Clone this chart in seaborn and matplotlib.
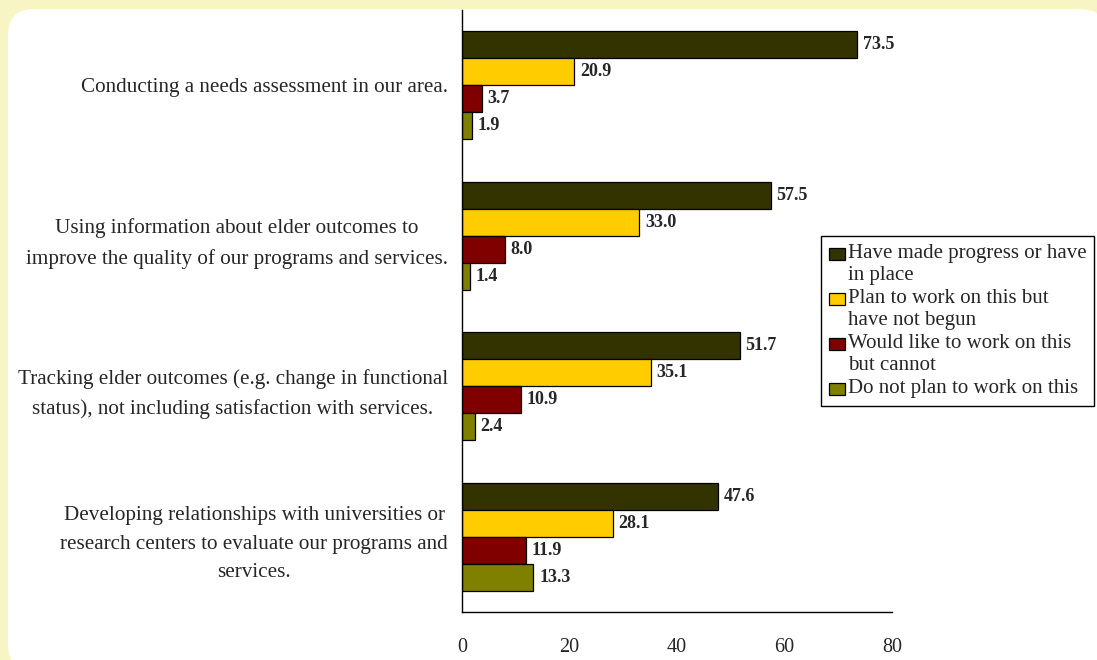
import matplotlib
matplotlib.use("Agg")
import matplotlib.pyplot as plt
from matplotlib.patches import FancyBboxPatch, Rectangle
from matplotlib.legend_handler import HandlerPatch
from matplotlib.ticker import FixedLocator
import pandas as pd
import seaborn as sns

# Survey items (y categories)
activities = [
    "Conducting a needs assessment in our area.",
    "Using information about elder outcomes to\nimprove the quality of our programs and services.",
    "Tracking elder outcomes (e.g. change in functional\nstatus), not including satisfaction with services.",
    "Developing relationships with universities or\nresearch centers to evaluate our programs and\nservices.",
]

# Response groups
statuses = [
    "Have made progress or have\nin place",
    "Plan to work on this but\nhave not begun",
    "Would like to work on this\nbut cannot",
    "Do not plan to work on this",
]

# Percent of respondents, one list per response group
made_progress = [73.5, 57.5, 51.7, 47.6]
plan_to_work = [20.9, 33.0, 35.1, 28.1]
would_like = [3.7, 8.0, 10.9, 11.9]
not_plan = [1.9, 1.4, 2.4, 13.3]

x_ticks = [0, 20, 40, 60, 80]

colors = ["#333300", "#FFCC00", "#800000", "#808000"]

rows = []
for status, values in zip(statuses, [made_progress, plan_to_work, would_like, not_plan]):
    for act, v in zip(activities, values):
        rows.append({"activity": act, "status": status, "percent": v})
df = pd.DataFrame(rows)

sns.set_style("white")
plt.rcParams["font.family"] = ["Liberation Serif", "DejaVu Serif"]

fig = plt.figure(figsize=(10.97, 6.6), dpi=100)
fig.patch.set_facecolor("#F7F5C4")

# white rounded panel behind the chart
panel = FancyBboxPatch(
    (8 / 1097, -11 / 660), 1098 / 1097, 662 / 660,
    boxstyle="round,pad=0,rounding_size=0.024",
    mutation_aspect=1097 / 660,
    transform=fig.transFigure, facecolor="white", edgecolor="none", zorder=-5,
)
fig.patches.append(panel)

ax = fig.add_axes([462 / 1097, 1 - 612 / 660, 430 / 1097, 602 / 660])
ax.set_facecolor("none")

sns.barplot(
    data=df, y="activity", x="percent", hue="status",
    order=activities, hue_order=statuses, palette=colors,
    orient="h", width=0.72, gap=0, edgecolor="black", linewidth=0.9,
    saturation=1, errorbar=None, ax=ax,
)

for cont in ax.containers:
    ax.bar_label(cont, fmt="%.1f", padding=4, fontsize=13, fontweight="bold")

ax.set_xlim(0, 80)
ax.set_ylim(3.5, -0.5)
ax.set_xticks(x_ticks)
ax.set_xticklabels([str(t) for t in x_ticks])
ax.set_xlabel("")
ax.set_ylabel("")

for side in ["top", "right"]:
    ax.spines[side].set_visible(False)
for side in ["left", "bottom"]:
    ax.spines[side].set_color("black")
    ax.spines[side].set_linewidth(1.0)

ax.tick_params(axis="x", which="major", direction="out", length=5, width=1,
               color="black", pad=14, labelsize=14.5)
ax.tick_params(axis="y", which="major", length=0, pad=10, labelsize=15.2)
ax.yaxis.set_minor_locator(FixedLocator([-0.5, 0.5, 1.5, 2.5, 3.5]))
ax.tick_params(axis="y", which="minor", direction="out", length=5, width=1, color="black")
for lab in ax.get_yticklabels():
    lab.set_multialignment("center")
    lab.set_linespacing(1.7)


class TopSquareHandler(HandlerPatch):
    """Small square key drawn at the top of the handle box."""

    def create_artists(self, legend, orig_handle, xdescent, ydescent,
                       width, height, fontsize, trans):
        size = 0.58 * fontsize
        rect = Rectangle((-xdescent, -ydescent + height - size - 0.18 * fontsize),
                         width, size,
                         facecolor=orig_handle.get_facecolor(),
                         edgecolor="black", linewidth=1.0)
        self.update_prop(rect, orig_handle, legend)
        rect.set_edgecolor("black")
        rect.set_transform(trans)
        return [rect]


handles, labels = ax.get_legend_handles_labels()
leg = ax.legend(
    handles, labels, loc="upper left",
    bbox_to_anchor=(821 / 1097, 1 - 236 / 660), bbox_transform=fig.transFigure,
    frameon=True, fancybox=False, edgecolor="black", framealpha=1,
    fontsize=15, handlelength=0.78, handleheight=0.9, handletextpad=0.12,
    labelspacing=0.2, borderpad=0.38, borderaxespad=0,
    handler_map={Rectangle: TopSquareHandler()},
)
leg.get_frame().set_linewidth(1.0)
for t in leg.get_texts():
    t.set_linespacing(1.2)
# keys line up with the first line of each wrapped label
for column in leg._legend_handle_box.get_children():
    for item in column.get_children():
        item.align = "top"

fig.savefig("out.png", dpi=100, facecolor=fig.get_facecolor())
